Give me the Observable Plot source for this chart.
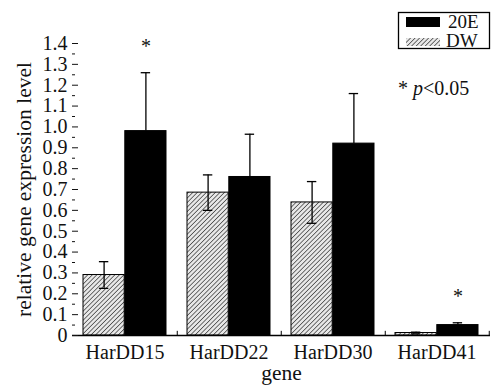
<!DOCTYPE html>
<html>
<head>
<meta charset="utf-8">
<script src="https://cdn.jsdelivr.net/npm/d3@7"></script>
<script src="https://cdn.jsdelivr.net/npm/@observablehq/plot@0.6"></script>
<style>
  html, body { margin: 0; padding: 0; background: #fff; }
  #wrap { position: relative; width: 495px; height: 385px; font-family: "Liberation Serif", "Times New Roman", serif; color: #111; }
  #legend { position: absolute; left: 0; top: 0; pointer-events: none; }
</style>
</head>
<body>
<div id="wrap"></div>
<script>
// ---- data ----
const genes = ["HarDD15", "HarDD22", "HarDD30", "HarDD41"];
const dwMean = [0.29, 0.685, 0.638, 0.012];
const dwErr = [0.064, 0.085, 0.10, 0.004];
const e20Mean = [0.98, 0.76, 0.92, 0.05];
const e20Err = [0.28, 0.205, 0.24, 0.011];
const e20Signif = ["HarDD15", "HarDD41"];
const yTicks = [0, 0.1, 0.2, 0.3, 0.4, 0.5, 0.6, 0.7, 0.8, 0.9, 1.0, 1.1, 1.2, 1.3, 1.4];
const yTickLabels = ["0", "0.1", "0.2", "0.3", "0.4", "0.5", "0.6", "0.7", "0.8", "0.9", "1.0", "1.1", "1.2", "1.3", "1.4"];
const yMinorTicks = [0.05, 0.15, 0.25, 0.35, 0.45, 0.55, 0.65, 0.75, 0.85, 0.95, 1.05, 1.15, 1.25, 1.35];
const series = ["20E", "DW"];
const yTitle = "relative gene expression level";
const xTitle = "gene";

// ---- layout ----
const W = 495, H = 385;
const mL = 72, mR = 5, mT = 43, mB = 50;
const pInner = 0.2, pOuter = 0.1;
const step = (W - mL - mR) / (genes.length - pInner + 2 * pOuter);
const bw = step * (1 - pInner);
const half = bw / 2;
const capHalf = 5;

const dwRows = genes.map((g, i) => ({gene: g, v: dwMean[i], lo: dwMean[i] - dwErr[i], hi: dwMean[i] + dwErr[i]}));
const e20Rows = genes.map((g, i) => ({gene: g, v: e20Mean[i], lo: e20Mean[i] - e20Err[i], hi: e20Mean[i] + e20Err[i]}));
const starRows = e20Rows.filter(d => e20Signif.includes(d.gene));
const labelOf = new Map(yTicks.map((t, i) => [t, yTickLabels[i]]));

const chart = Plot.plot({
  width: W, height: H,
  marginLeft: mL, marginRight: mR, marginTop: mT, marginBottom: mB,
  style: {fontFamily: "Liberation Serif", fontSize: "20px", color: "#111", background: "#fff"},
  x: {domain: genes, paddingInner: pInner, paddingOuter: pOuter, align: 0.5},
  y: {domain: [0, 1.4]},
  marks: [
    // bars
    Plot.barY(dwRows, {x: "gene", y: "v", fill: "url(#hatchDW)", stroke: "#000", strokeWidth: 1, insetRight: half}),
    Plot.barY(e20Rows, {x: "gene", y: "v", fill: "#000", stroke: "#000", strokeWidth: 1, insetLeft: half}),
    // error bars
    Plot.ruleX(dwRows, {x: "gene", y1: "lo", y2: "hi", dx: -bw / 4, stroke: "#000", strokeWidth: 1.3}),
    Plot.tickY(dwRows, {x: "gene", y: "hi", dx: -bw / 4, insetLeft: half - capHalf, insetRight: half - capHalf, stroke: "#000", strokeWidth: 1.3}),
    Plot.tickY(dwRows, {x: "gene", y: "lo", dx: -bw / 4, insetLeft: half - capHalf, insetRight: half - capHalf, stroke: "#000", strokeWidth: 1.3}),
    Plot.ruleX(e20Rows, {x: "gene", y1: "v", y2: "hi", dx: bw / 4, stroke: "#000", strokeWidth: 1.3}),
    Plot.tickY(e20Rows, {x: "gene", y: "hi", dx: bw / 4, insetLeft: half - capHalf, insetRight: half - capHalf, stroke: "#000", strokeWidth: 1.3}),
    // significance stars
    Plot.text(starRows, {x: "gene", y: "hi", dx: bw / 4, dy: -26, text: () => "*", fontSize: 20, fill: "#111"}),
    // axes
    Plot.ruleY([0], {stroke: "#000", strokeWidth: 1.3}),
    Plot.ruleX(genes, {x: d => d, dx: step / 2, y1: 0, y2: 0.02, stroke: "#000", strokeWidth: 1}),
    Plot.axisY({ticks: yMinorTicks, tickSize: -3, tickFormat: () => "", label: null}),
    Plot.axisY({ticks: yTicks, tickSize: -6, tickPadding: 11, tickFormat: d => labelOf.get(d) ?? d, line: true,
      label: yTitle, labelAnchor: "center", labelArrow: "none", labelOffset: 57}),
    Plot.axisX({tickSize: 0, tickPadding: 9, label: xTitle, labelAnchor: "center", labelArrow: "none", labelOffset: 44})
  ]
});

// hatch pattern defs
const ns = "http://www.w3.org/2000/svg";
const svgEl = chart.tagName.toLowerCase() === "svg" ? chart : chart.querySelector("svg");
const defs = document.createElementNS(ns, "defs");
defs.innerHTML = `
  <pattern id="hatchDW" patternUnits="userSpaceOnUse" width="3.2" height="3.2" patternTransform="rotate(45)">
    <rect width="3.2" height="3.2" fill="#e8e8e8"></rect>
    <line x1="0" y1="0" x2="0" y2="3.2" stroke="#1a1a1a" stroke-width="1.2"></line>
  </pattern>`;
svgEl.insertBefore(defs, svgEl.firstChild);
// enlarge the axis titles
svgEl.querySelectorAll("text").forEach(t => {
  if (t.textContent === yTitle || t.textContent === xTitle) t.style.fontSize = "21.5px";
});

const wrap = document.getElementById("wrap");
wrap.appendChild(chart);

// legend + note overlay
const leg = document.createElementNS(ns, "svg");
leg.setAttribute("id", "legend");
leg.setAttribute("width", W);
leg.setAttribute("height", H);
leg.innerHTML = `
  <defs>
    <pattern id="hatchLeg" patternUnits="userSpaceOnUse" width="3.2" height="3.2" patternTransform="rotate(45)">
      <rect width="3.2" height="3.2" fill="#e8e8e8"></rect>
      <line x1="0" y1="0" x2="0" y2="3.2" stroke="#1a1a1a" stroke-width="1.2"></line>
    </pattern>
  </defs>
  <rect x="398.5" y="12.5" width="91" height="36" fill="#fff" stroke="#000" stroke-width="1.3"></rect>
  <rect x="406" y="17" width="34" height="10" fill="#000"></rect>
  <rect x="406" y="38" width="34" height="8" fill="url(#hatchLeg)"></rect>
  <g font-family="Liberation Serif" font-size="19" fill="#111">
    <text x="448" y="28">${series[0]}</text>
    <text x="446" y="47">${series[1]}</text>
    <text x="398" y="95" font-size="20">* <tspan font-style="italic">p</tspan>&lt;0.05</text>
  </g>`;
wrap.appendChild(leg);
</script>
</body>
</html>
